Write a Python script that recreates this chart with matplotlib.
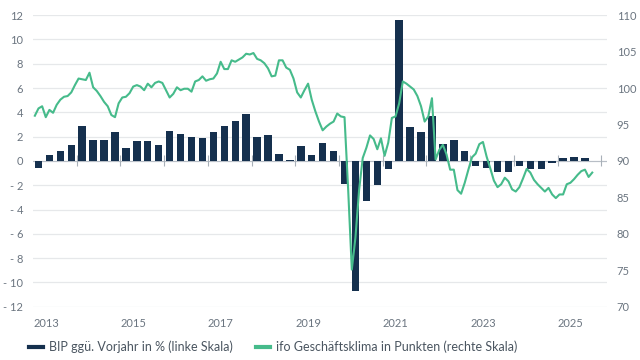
import numpy as np
import pandas as pd
import matplotlib
matplotlib.use('Agg')
import matplotlib.pyplot as plt
from matplotlib.lines import Line2D

plt.rcParams['font.family'] = ['Lato', 'DejaVu Sans']

# BIP ggü. Vorjahr in %, quarterly from 2013Q1
bip = [-0.6, 0.5, 0.8, 1.3,
       2.9, 1.7, 1.7, 2.4,
       1.1, 1.6, 1.6, 1.3,
       2.5, 2.2, 2.0, 1.9,
       2.4, 2.9, 3.3, 3.9,
       2.0, 2.1, 0.6, 0.1,
       1.2, 0.5, 1.5, 0.8,
       -1.9, -10.7, -3.3, -2.0,
       -0.7, 11.6, 2.8, 2.4,
       3.7, 1.4, 1.7, 0.8,
       -0.4, -0.6, -0.9, -0.9,
       -0.4, -0.7, -0.7, -0.2,
       0.2, 0.3, 0.25]

# ifo Geschäftsklima, monthly from Jan 2013
ifo = [96.2, 97.2, 97.5, 96.0, 97.0, 96.6, 97.7, 98.4, 98.8, 98.9, 99.4, 100.4,
       101.3, 101.2, 101.1, 102.1, 100.1, 99.6, 98.9, 98.1, 97.5, 96.3, 96.0, 97.9,
       98.7, 98.8, 99.3, 100.2, 100.4, 100.2, 99.7, 100.6, 100.1, 100.7, 100.9, 100.7,
       99.7, 98.7, 99.2, 100.1, 99.7, 99.9, 99.9, 99.5, 100.9, 101.1, 101.6, 101.0,
       101.2, 101.3, 102.0, 103.6, 102.6, 102.6, 103.8, 103.6, 103.9, 104.2, 104.7, 104.6,
       104.8, 104.0, 103.8, 103.4, 102.7, 101.6, 101.7, 103.8, 103.8, 102.8, 102.5, 101.3,
       99.4, 98.7, 99.7, 100.6, 98.4, 96.8, 95.4, 94.2, 94.7, 95.1, 95.4, 96.5,
       96.1, 96.0, 86.1, 75.1, 79.5, 86.0, 90.4, 91.8, 93.5, 93.0, 91.6, 93.1,
       90.7, 92.5, 95.9, 96.1, 97.9, 100.9, 100.6, 100.2, 99.8, 98.9, 97.5, 95.4,
       96.1, 98.6, 90.2, 91.5, 92.2, 90.9, 88.8, 88.8, 86.0, 85.5, 87.0, 88.8,
       90.5, 91.0, 92.3, 92.6, 90.6, 89.0, 87.3, 86.4, 86.8, 87.7, 87.2, 86.1,
       85.8, 86.4, 87.6, 88.9, 88.4, 87.4, 86.8, 86.3, 85.8, 86.3, 85.4, 84.9,
       85.4, 85.4, 86.8, 87.0, 87.5, 88.1, 88.6, 88.8, 87.8, 88.4]

years = list(range(2013, 2027))
year_labels = ['2013', '2015', '2017', '2019', '2021', '2023', '2025']
left_ticks = list(range(-12, 13, 2))
right_ticks = list(range(70, 111, 5))

navy = '#15304e'
green = '#46bb8b'
grey_txt = '#6b7580'

# positions in decimal years
q = pd.period_range('2013Q1', periods=len(bip), freq='Q')
xq = q.year + (q.quarter - 0.5) / 4
m = pd.period_range('2013-01', periods=len(ifo), freq='M')
xm = m.year + (m.month - 0.5) / 12

fig = plt.figure(figsize=(6.4, 3.6), dpi=100)
ax = fig.add_axes([0.0516, 0.148, 0.8969, 0.810])
ax2 = ax.twinx()

ax.bar(xq, bip, width=0.17, color=navy, zorder=3)
ax.axhline(0, color='#b8bec6', lw=0.8, zorder=2)
ax.vlines(years[1:], -0.45, 0.45, color='#a8b0b8', lw=0.8, zorder=2)
ax2.plot(xm, ifo, color=green, lw=1.5, zorder=4)

ax.set_xlim(2013, 2026.13)
ax.set_ylim(-12, 12)
ax2.set_ylim(70, 110)

ax.set_yticks(left_ticks)
ax.set_yticklabels([f'- {abs(v)}' if v < 0 else f'{v}' for v in left_ticks])
ax2.set_yticks(right_ticks)
ax2.set_yticklabels([str(v) for v in right_ticks])

ax.set_xticks([int(y) for y in year_labels])
ax.set_xticklabels(year_labels, ha='left')

ax.grid(axis='y', color='#e6e8ea', lw=0.9)
ax.set_axisbelow(True)
ax.tick_params(axis='x', length=0, pad=8, labelsize=8, labelcolor=grey_txt)
ax.tick_params(axis='y', length=0, pad=7, labelsize=8, labelcolor=grey_txt)
ax2.tick_params(axis='y', length=0, pad=7, labelsize=8, labelcolor=grey_txt)
for a in (ax, ax2):
    for s in a.spines.values():
        s.set_visible(False)

handles = [Line2D([], [], color=navy, lw=3),
           Line2D([], [], color=green, lw=3)]
labels = ['BIP ggü. Vorjahr in % (linke Skala)',
          'ifo Geschäftsklima in Punkten (rechte Skala)']
fig.legend(handles, labels, loc='center left', bbox_to_anchor=(0.045, 0.036),
           ncol=2, frameon=False, fontsize=9, handlelength=1.1,
           handletextpad=0.5, columnspacing=1.9, borderpad=0, borderaxespad=0,
           labelcolor='#4a5560')

fig.savefig('out.png', dpi=100)
